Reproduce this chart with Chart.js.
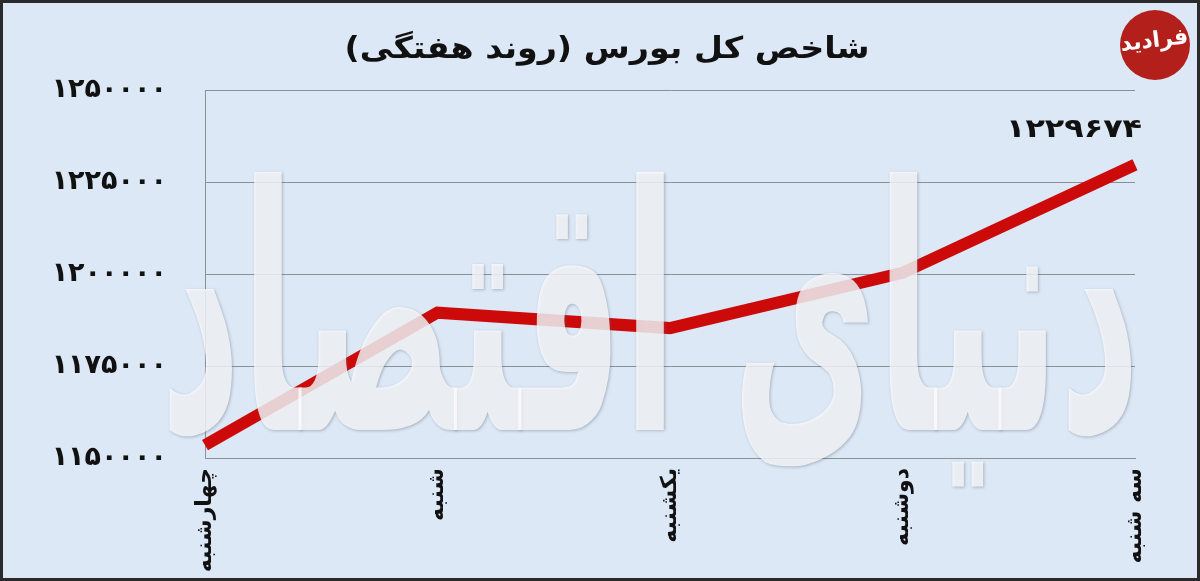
<!DOCTYPE html>
<html>
<head>
<meta charset="utf-8">
<script src="https://cdn.jsdelivr.net/npm/chart.js@4/dist/chart.umd.min.js"></script>
<style>
  html, body { margin: 0; padding: 0; background: #dce8f6; }
  #wrap { width: 1200px; height: 581px; position: relative; }
</style>
</head>
<body>
<div id="wrap"><canvas id="bourseChart" width="1200" height="581"></canvas></div>
<script>
// روزهای هفته و مقدار شاخص
const days = ["چهارشنبه", "شنبه", "یکشنبه", "دوشنبه", "سه شنبه"];
const indexValues = [1153500, 1189500, 1185300, 1200300, 1229674];
const yTicks = [1150000, 1175000, 1200000, 1225000, 1250000];
const titleText = "شاخص کل بورس (روند هفتگی)";
const watermarkText = "دنیای اقتصاد";
const logoText = "فرادید";

const FONT = "'DejaVu Sans', 'Noto Sans', sans-serif";

function toFa(n) {
    return String(n).replace(/\d/g, d => "۰۱۲۳۴۵۶۷۸۹"[d]);
}

// پس‌زمینه، قاب و عنوان
const bgPlugin = {
    id: "bg",
    beforeDraw(chart) {
        const ctx = chart.ctx;
        ctx.save();
        ctx.fillStyle = "#dce8f6";
        ctx.fillRect(0, 0, chart.width, chart.height);
        ctx.strokeStyle = "#2a2a2a";
        ctx.lineWidth = 3;
        ctx.strokeRect(1.5, 1.5, chart.width - 3, chart.height - 3);

        ctx.fillStyle = "#111";
        ctx.font = "bold 30px " + FONT;
        ctx.direction = "rtl";
        ctx.textAlign = "center";
        ctx.textBaseline = "middle";
        const tw = ctx.measureText(titleText).width;
        ctx.translate(607, 50);
        ctx.scale(525 / tw, 1);
        ctx.fillText(titleText, 0, 0);
        ctx.restore();
    }
};

// واترمارک، برچسب آخرین نقطه و لوگو
const overlayPlugin = {
    id: "overlay",
    afterDatasetsDraw(chart) {
        const ctx = chart.ctx;
        ctx.save();
        ctx.font = "bold 200px " + FONT;
        ctx.direction = "rtl";
        const w = ctx.measureText(watermarkText).width;
        ctx.translate(1140, 430);
        ctx.scale(980 / w, 1.7);
        ctx.textAlign = "right";
        ctx.textBaseline = "alphabetic";
        ctx.shadowColor = "rgba(90,100,110,0.5)";
        ctx.shadowBlur = 3;
        ctx.shadowOffsetX = 1;
        ctx.shadowOffsetY = 1;
        ctx.fillStyle = "rgba(252,253,255,0.78)";
        ctx.fillText(watermarkText, 0, 0);
        ctx.restore();
    },
    afterDraw(chart) {
        const ctx = chart.ctx;
        const xs = chart.scales.x, ys = chart.scales.y;
        const last = indexValues.length - 1;
        ctx.save();
        ctx.fillStyle = "#111";
        ctx.font = "bold 26px " + FONT;
        ctx.textAlign = "right";
        ctx.textBaseline = "middle";
        const lbl = toFa(indexValues[last]);
        const lw = ctx.measureText(lbl).width;
        ctx.translate(xs.getPixelForValue(last) + 7, ys.getPixelForValue(indexValues[last]) - 35);
        ctx.scale(136 / lw, 1);
        ctx.fillText(lbl, 0, 0);
        ctx.restore();

        // لوگو
        ctx.save();
        ctx.beginPath();
        ctx.arc(1155, 45, 35, 0, Math.PI * 2);
        ctx.fillStyle = "#b31f1b";
        ctx.fill();
        ctx.fillStyle = "#fff";
        ctx.font = "bold 22px " + FONT;
        ctx.textAlign = "center";
        ctx.direction = "rtl";
        ctx.translate(1155, 47);
        ctx.rotate(-0.12);
        ctx.fillText(logoText, 0, 0);
        ctx.restore();
    }
};

new Chart(document.getElementById("bourseChart").getContext("2d"), {
    type: "line",
    data: {
        labels: days,
        datasets: [{
            data: indexValues,
            borderColor: "#cc0a0a",
            borderWidth: 12,
            borderJoinStyle: "miter",
            pointRadius: 0,
            tension: 0,
            fill: false
        }]
    },
    options: {
        responsive: false,
        animation: false,
        layout: { padding: { left: 0, right: 65, top: 90, bottom: 0 } },
        plugins: {
            legend: { display: false },
            tooltip: { enabled: false },
            title: { display: false }
        },
        scales: {
            x: {
                offset: false,
                grid: { display: false, drawTicks: false },
                border: { display: true, color: "#8a9098", width: 1 },
                ticks: {
                    color: "#111",
                    font: { family: FONT, size: 22, weight: "bold" },
                    minRotation: 90,
                    maxRotation: 90,
                    padding: 10,
                    autoSkip: false
                },
                afterFit(scale) { scale.height = 123; }
            },
            y: {
                min: yTicks[0],
                max: yTicks[yTicks.length - 1],
                afterBuildTicks(scale) { scale.ticks = yTicks.map(v => ({ value: v })); },
                grid: { color: "#8a9098", lineWidth: 1, drawTicks: false },
                border: { display: true, color: "#8a9098", width: 1 },
                ticks: {
                    color: "#111",
                    font: { family: FONT, size: 27, weight: "bold" },
                    padding: 38,
                    callback: v => toFa(v)
                },
                afterFit(scale) { scale.width = 205; }
            }
        }
    },
    plugins: [bgPlugin, overlayPlugin]
});
</script>
</body>
</html>
